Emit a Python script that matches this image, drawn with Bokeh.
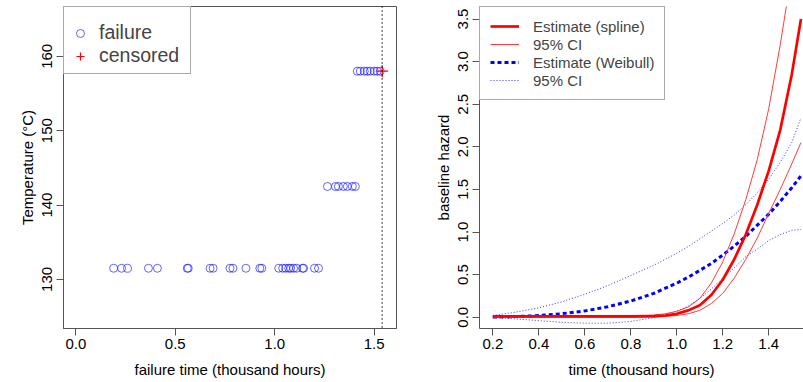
from bokeh.plotting import figure
from bokeh.layouts import row
from bokeh.models import Legend, LegendItem, Span, FixedTicker, Range1d
from bokeh.embed import file_html
from bokeh.resources import INLINE

FONT = "Liberation Sans"

# ---------------- left panel data ----------------
fail_t_131 = [0.19, 0.23, 0.26, 0.365, 0.41, 0.56, 0.565, 0.675, 0.69, 0.775, 0.79,
              0.855, 0.925, 0.935, 1.02, 1.04, 1.055, 1.07, 1.08, 1.095, 1.11, 1.14,
              1.145, 1.2, 1.22]
fail_t_142 = [1.265, 1.305, 1.32, 1.345, 1.365, 1.39, 1.405]
fail_t_158 = [1.415, 1.43, 1.45, 1.465, 1.48, 1.5, 1.515, 1.53]
temp_levels = [131.5, 142.5, 158.0]
cens_t = [1.54]
cens_temp = [158.0]
cutoff_time = 1.54

left_xticks = [0.0, 0.5, 1.0, 1.5]
left_xlabels = ["0.0", "0.5", "1.0", "1.5"]
left_yticks = [130, 140, 150, 160]
left_ylabels = ["130", "140", "150", "160"]

# ---------------- right panel data ----------------
time_grid = [0.2, 0.3, 0.4, 0.5, 0.6, 0.7, 0.8, 0.9, 0.95, 1.0, 1.05, 1.1, 1.15, 1.2,
             1.25, 1.3, 1.35, 1.4, 1.45, 1.5, 1.54]
spline_est = [0.01, 0.01, 0.01, 0.01, 0.01, 0.01, 0.01, 0.012, 0.02, 0.04, 0.08, 0.14,
              0.26, 0.44, 0.68, 0.97, 1.32, 1.72, 2.2, 2.85, 3.5]
spline_upper = [0.02, 0.02, 0.02, 0.02, 0.02, 0.02, 0.02, 0.025, 0.04, 0.07, 0.12, 0.22,
                0.4, 0.65, 0.98, 1.38, 1.85, 2.45, 3.2, 4.05, 4.7]
spline_lower = [0.0, 0.0, 0.0, 0.0, 0.0, 0.0, 0.0, 0.002, 0.01, 0.02, 0.04, 0.08,
                0.16, 0.28, 0.46, 0.68, 0.93, 1.22, 1.5, 1.8, 2.05]
weib_est = [0.002, 0.0075, 0.019, 0.041, 0.074, 0.123, 0.19, 0.28, 0.34, 0.40, 0.47, 0.55,
            0.63, 0.73, 0.835, 0.95, 1.08, 1.21, 1.36, 1.52, 1.66]
weib_upper = [0.02, 0.06, 0.11, 0.18, 0.27, 0.37, 0.49, 0.61, 0.68, 0.75, 0.83, 0.92,
              1.01, 1.10, 1.2, 1.32, 1.46, 1.62, 1.82, 2.05, 2.34]
weib_lower = [-0.005, -0.02, -0.04, -0.06, -0.07, -0.07, -0.05, -0.005, 0.03, 0.07, 0.13,
              0.22, 0.33, 0.46, 0.58, 0.71, 0.80, 0.90, 0.97, 1.02, 1.03]

right_xticks = [0.2, 0.4, 0.6, 0.8, 1.0, 1.2, 1.4]
right_xlabels = ["0.2", "0.4", "0.6", "0.8", "1.0", "1.2", "1.4"]
right_yticks = [0.0, 0.5, 1.0, 1.5, 2.0, 2.5, 3.0, 3.5]
right_ylabels = ["0.0", "0.5", "1.0", "1.5", "2.0", "2.5", "3.0", "3.5"]

LINE = "#555555"


def style_axes(p, xt, xl, yt, yl, xlabel, ylabel):
    p.xaxis.ticker = FixedTicker(ticks=xt)
    p.yaxis.ticker = FixedTicker(ticks=yt)
    p.xaxis.major_label_overrides = {t: s for t, s in zip(xt, xl)}
    p.yaxis.major_label_overrides = {t: s for t, s in zip(yt, yl)}
    p.xaxis.axis_label = xlabel
    p.yaxis.axis_label = ylabel
    for ax in (p.xaxis[0], p.yaxis[0]):
        ax.minor_tick_line_color = None
        ax.major_tick_in = 0
        ax.major_tick_out = 7
        ax.major_tick_line_color = LINE
        ax.axis_line_color = LINE
        ax.major_label_text_font = FONT
        ax.major_label_text_font_size = "15px"
        ax.major_label_text_color = "black"
        ax.axis_label_text_font = FONT
        ax.axis_label_text_font_size = "15px"
        ax.axis_label_text_font_style = "normal"
        ax.axis_label_text_color = "black"
    p.xaxis.major_label_standoff = 3
    p.xaxis.axis_label_standoff = 9
    p.yaxis.major_label_orientation = "vertical"
    p.yaxis.major_label_standoff = 4
    p.yaxis.axis_label_standoff = 4
    p.xgrid.grid_line_color = None
    p.ygrid.grid_line_color = None


# ---------------- left figure ----------------
p1 = figure(width=410, height=382, output_backend="svg", toolbar_location=None,
            x_range=Range1d(-0.062, 1.612), y_range=Range1d(123.4, 166.7),
            min_border_left=63, min_border_right=14, min_border_top=6, min_border_bottom=54)
p1.outline_line_color = LINE
style_axes(p1, left_xticks, left_xlabels, left_yticks, left_ylabels,
           "failure time (thousand hours)", "Temperature (°C)")

all_t = fail_t_131 + fail_t_142 + fail_t_158
all_temp = ([temp_levels[0]] * len(fail_t_131) + [temp_levels[1]] * len(fail_t_142)
            + [temp_levels[2]] * len(fail_t_158))
r_fail = p1.scatter(all_t, all_temp, marker="circle", size=8, fill_color=None,
                    line_color="blue", line_alpha=0.6, line_width=1)
r_cens = p1.scatter(cens_t, cens_temp, marker="cross", size=12, line_color="red", line_width=1.2)
p1.add_layout(Span(location=cutoff_time, dimension="height", line_color="black",
                   line_dash="1 3", line_width=1.5))

leg1 = Legend(items=[LegendItem(label="failure", renderers=[r_fail]),
                     LegendItem(label="censored", renderers=[r_cens])],
              location="top_left", margin=0, padding=6, spacing=0,
              glyph_width=20, glyph_height=22, label_height=22, label_standoff=9,
              label_width=85, label_text_font=FONT, label_text_font_size="19.5px",
              border_line_color=LINE, border_line_width=1, background_fill_alpha=1,
              title=" ", title_text_font_size="5px", title_standoff=2)
p1.add_layout(leg1, "center")

# ---------------- right figure ----------------
p2 = figure(width=393, height=382, output_backend="svg", toolbar_location=None,
            x_range=Range1d(0.142, 1.551), y_range=Range1d(-0.1326, 3.647),
            min_border_left=69, min_border_right=0, min_border_top=6, min_border_bottom=54)
p2.outline_line_color = None
style_axes(p2, right_xticks, right_xlabels, right_yticks, right_ylabels,
           "time (thousand hours)", "baseline hazard")

r_wu = p2.line(time_grid, weib_upper, line_color="blue", line_width=1, line_dash="1 2", line_alpha=0.8)
r_wl = p2.line(time_grid, weib_lower, line_color="blue", line_width=1, line_dash="1 2", line_alpha=0.8)
r_we = p2.line(time_grid, weib_est, line_color="blue", line_width=3, line_dash="4 3")
r_su = p2.line(time_grid, spline_upper, line_color="#ff3b3b", line_width=1)
r_sl = p2.line(time_grid, spline_lower, line_color="#ff3b3b", line_width=1)
r_se = p2.line(time_grid, spline_est, line_color="red", line_width=2.7)

leg2 = Legend(items=[LegendItem(label="Estimate (spline)", renderers=[r_se]),
                     LegendItem(label="95% CI", renderers=[r_su]),
                     LegendItem(label="Estimate (Weibull)", renderers=[r_we]),
                     LegendItem(label="95% CI", renderers=[r_wu])],
              location="top_left", margin=0, padding=10, spacing=0,
              glyph_width=29, glyph_height=18, label_height=18, label_standoff=14,
              label_text_font=FONT, label_text_font_size="15px",
              border_line_color=LINE, border_line_width=1, background_fill_alpha=1)
p2.add_layout(leg2, "center")

layout = row(p1, p2)
open("out.html", "w").write(file_html(layout, INLINE))
